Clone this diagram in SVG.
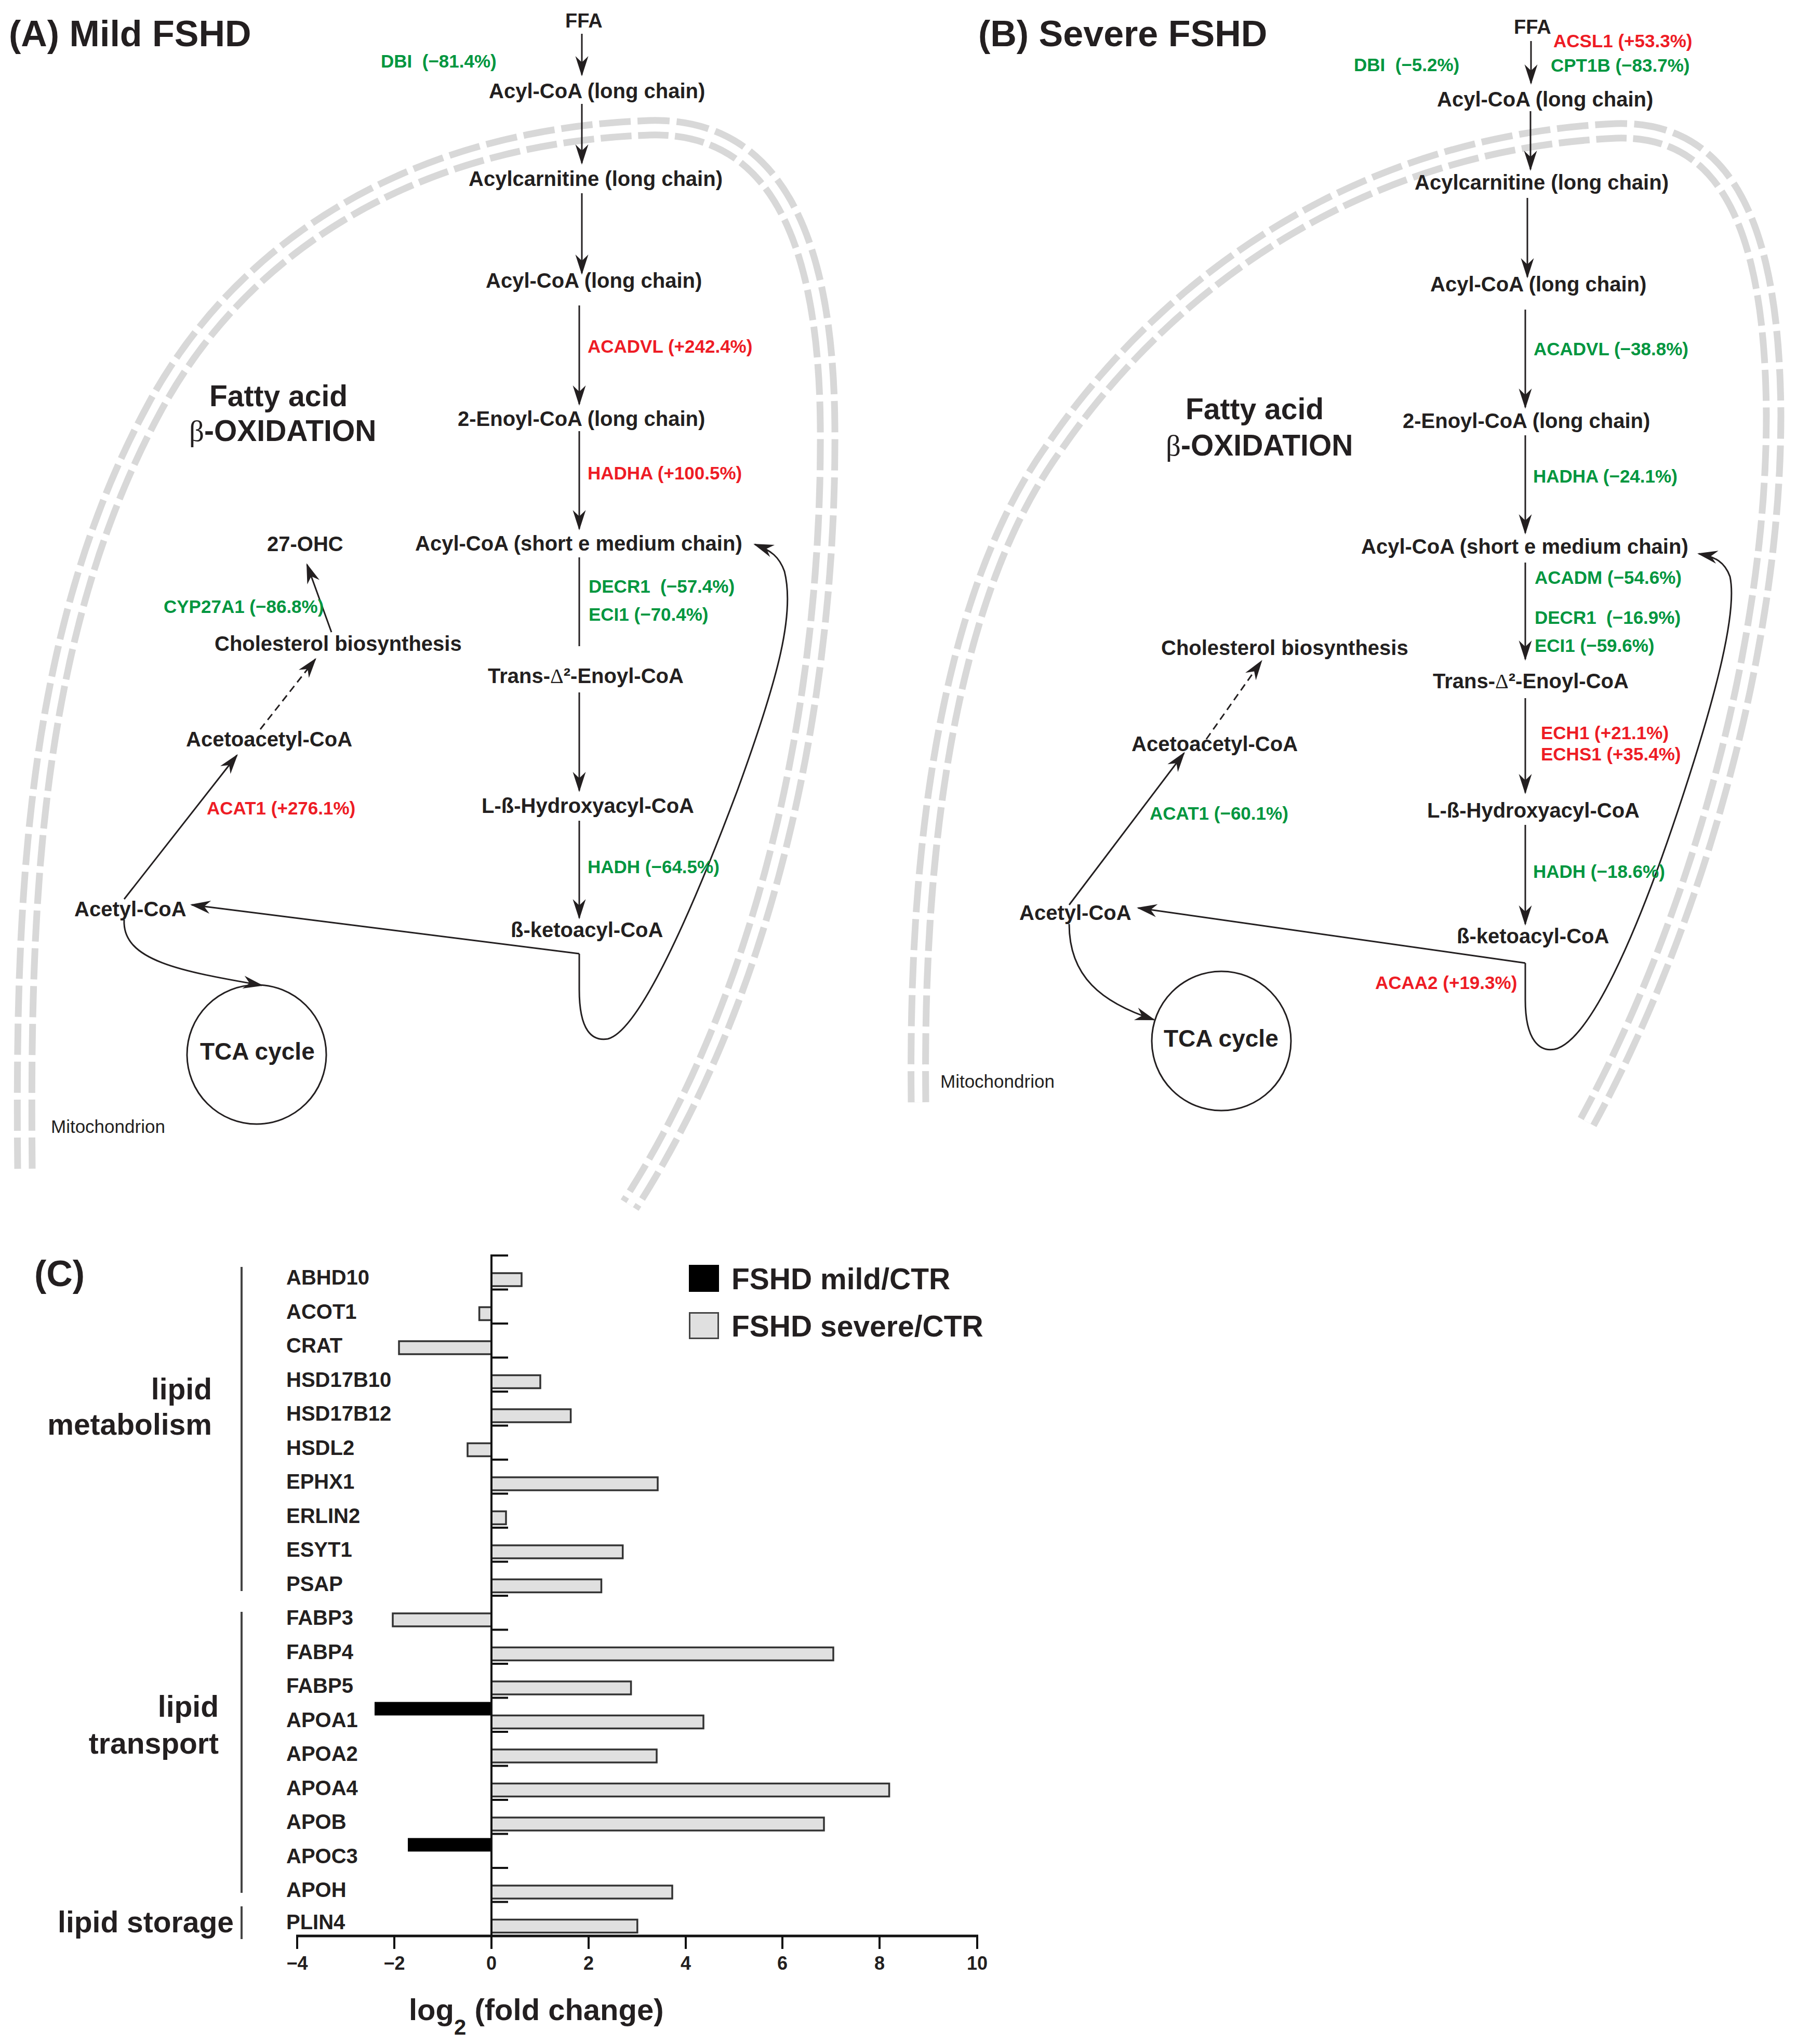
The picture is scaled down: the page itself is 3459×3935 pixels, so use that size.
<svg xmlns="http://www.w3.org/2000/svg" width="3459" height="3935" viewBox="0 0 3459 3935">
<style>
 text { font-family: "Liberation Sans", Arial, sans-serif; font-weight: bold; fill: #231f20; }
 .n { font-size: 40px; }
 .ffa { font-size: 38px; }
 .e { font-size: 35px; white-space: pre; }
 .g { fill: #00963f; }
 .r { fill: #ee1c25; }
 .title { font-size: 70px; }
 .big { font-size: 57px; }
 .tca { font-size: 46px; }
 .mito { font-weight: normal; font-size: 35px; }
 .sym { font-family: "Liberation Serif", "DejaVu Serif", serif; font-weight: normal; }
 .ln { stroke: #231f20; stroke-width: 3; fill: none; }
 .arr { marker-end: url(#ah); }
 .dash { stroke-dasharray: 14 9; }
 .mem { fill: none; stroke: #d8d8d8; stroke-width: 41; stroke-dasharray: 60 13; }
 .memgap { fill: none; stroke: #ffffff; stroke-width: 15; }
 .circ { fill: none; stroke: #231f20; stroke-width: 3; }
 .gene { font-size: 40px; }
 .tick { font-size: 36px; text-anchor: middle; }
 .ax { stroke: #111; stroke-width: 4; fill: none; }
 .gbar { fill: #e0e0e0; stroke: #333; stroke-width: 3.5; }
 .bbar { fill: #000; }
 .brk { stroke: #444; stroke-width: 4; }
 .leg { font-size: 57px; }
</style>
<defs>
 <marker id="ah" markerUnits="userSpaceOnUse" markerWidth="44" markerHeight="30" viewBox="-38 -15 42 30" refX="0" refY="0" orient="auto">
  <path d="M3,0 L-36,-12.5 L-24,0 L-36,12.5 Z" fill="#231f20"/>
 </marker>
</defs>
<rect x="0" y="0" width="3459" height="3935" fill="#ffffff"/>

<!-- Membranes -->
<g id="membrane-a">
 <path class="mem" d="M48,2250 C42,1700 70,1200 300,780 C470,470 800,262 1250,246 C1470,240 1590,420 1593,820 C1597,1300 1495,1880 1212,2320"/>
 <path class="memgap" d="M48,2250 C42,1700 70,1200 300,780 C470,470 800,262 1250,246 C1470,240 1590,420 1593,820 C1597,1300 1495,1880 1212,2320"/>
</g>
<g id="membrane-b">
 <path class="mem" d="M1768,2122 C1762,1650 1820,1150 2030,860 C2250,540 2620,275 3110,252 C3330,245 3412,450 3414,800 C3414,1250 3262,1780 3055,2160"/>
 <path class="memgap" d="M1768,2122 C1762,1650 1820,1150 2030,860 C2250,540 2620,275 3110,252 C3330,245 3412,450 3414,800 C3414,1250 3262,1780 3055,2160"/>
</g>

<!-- Connectors -->
<g id="connectors">
 <!-- panel A -->
 <path class="ln arr" d="M1120,65 L1120,144"/>
 <path class="ln arr" d="M1120,200 L1120,314"/>
 <path class="ln arr" d="M1120,372 L1120,526"/>
 <path class="ln arr" d="M1115,588 L1115,778"/>
 <path class="ln arr" d="M1115,830 L1115,1018"/>
 <path class="ln" d="M1115,1073 L1115,1244"/>
 <path class="ln arr" d="M1115,1333 L1115,1522"/>
 <path class="ln arr" d="M1115,1580 L1115,1767"/>
 <path class="ln arr" d="M1115,1836 L369,1742"/>
 <path class="ln arr" d="M1115,1836 L1115,1905 C1115,1985 1140,2005 1170,2000 C1230,1985 1330,1760 1420,1520 C1500,1300 1530,1180 1510,1100 C1500,1072 1485,1060 1453,1048"/>
 <path class="ln arr" d="M239,1731 L456,1454"/>
 <path class="ln arr dash" d="M501,1404 L607,1269"/>
 <path class="ln arr" d="M638,1217 L591,1087"/>
 <path class="ln arr" d="M239,1771 C235,1850 350,1870 504,1897"/>
 <!-- panel B -->
 <path class="ln arr" d="M2947,79 L2947,160"/>
 <path class="ln arr" d="M2946,214 L2946,326"/>
 <path class="ln arr" d="M2940,381 L2940,533"/>
 <path class="ln arr" d="M2936,596 L2936,784"/>
 <path class="ln arr" d="M2936,838 L2936,1026"/>
 <path class="ln arr" d="M2936,1083 L2936,1269"/>
 <path class="ln arr" d="M2936,1344 L2936,1526"/>
 <path class="ln arr" d="M2936,1588 L2936,1779"/>
 <path class="ln arr" d="M2936,1854 L2191,1748"/>
 <path class="ln arr" d="M2936,1854 L2936,1925 C2936,2005 2965,2025 2992,2020 C3060,2005 3150,1800 3230,1560 C3300,1350 3345,1180 3330,1110 C3320,1082 3302,1072 3270,1066"/>
 <path class="ln arr" d="M2058,1742 L2279,1450"/>
 <path class="ln arr dash" d="M2322,1423 L2428,1273"/>
 <path class="ln arr" d="M2058,1779 C2058,1880 2120,1930 2221,1963"/>
</g>

<!-- Panel A nodes -->
<g id="title-a"><text class="title" x="17" y="89">(A) Mild FSHD</text></g>
<g id="a-ffa"><text class="ffa" x="1088" y="53">FFA</text></g>
<g id="a-dbi"><text class="e g" x="733" y="130">DBI  (−81.4%)</text></g>
<g id="a-acylcoa-long1"><text class="n" x="941" y="189">Acyl-CoA (long chain)</text></g>
<g id="a-acylcarnitine"><text class="n" x="902" y="358">Acylcarnitine (long chain)</text></g>
<g id="a-acylcoa-long2"><text class="n" x="935" y="554">Acyl-CoA (long chain)</text></g>
<g id="a-acadvl"><text class="e r" x="1131" y="679">ACADVL (+242.4%)</text></g>
<g id="a-enoyl"><text class="n" x="881" y="820">2-Enoyl-CoA (long chain)</text></g>
<g id="a-hadha"><text class="e r" x="1131" y="923">HADHA (+100.5%)</text></g>
<g id="a-fatty"><text class="big" x="403" y="782">Fatty acid</text><text class="big" x="364" y="849"><tspan class="sym">β</tspan>-OXIDATION</text></g>
<g id="a-acylcoa-short"><text class="n" x="799" y="1060">Acyl-CoA (short e medium chain)</text></g>
<g id="a-27ohc"><text class="n" x="514" y="1061">27-OHC</text></g>
<g id="a-decr1"><text class="e g" x="1133" y="1141">DECR1  (−57.4%)</text></g>
<g id="a-eci1"><text class="e g" x="1133" y="1195">ECI1 (−70.4%)</text></g>
<g id="a-cyp27a1"><text class="e g" x="315" y="1180">CYP27A1 (−86.8%)</text></g>
<g id="a-cholesterol"><text class="n" x="413" y="1253">Cholesterol biosynthesis</text></g>
<g id="a-trans"><text class="n" x="939" y="1315">Trans-<tspan class="sym">Δ</tspan>²-Enoyl-CoA</text></g>
<g id="a-acetoacetyl"><text class="n" x="358" y="1437">Acetoacetyl-CoA</text></g>
<g id="a-acat1"><text class="e r" x="398" y="1568">ACAT1 (+276.1%)</text></g>
<g id="a-hydroxy"><text class="n" x="927" y="1565">L-ß-Hydroxyacyl-CoA</text></g>
<g id="a-hadh"><text class="e g" x="1131" y="1681">HADH (−64.5%)</text></g>
<g id="a-acetyl"><text class="n" x="143" y="1764">Acetyl-CoA</text></g>
<g id="a-keto"><text class="n" x="983" y="1804">ß-ketoacyl-CoA</text></g>
<g id="a-tca"><circle class="circ" cx="494" cy="2030" r="134"/><text class="tca" x="385" y="2040">TCA cycle</text></g>
<g id="a-mito"><text class="mito" x="98" y="2181">Mitochondrion</text></g>

<!-- Panel B nodes -->
<g id="title-b"><text class="title" x="1883" y="89">(B) Severe FSHD</text></g>
<g id="b-ffa"><text class="ffa" x="2914" y="65">FFA</text></g>
<g id="b-acsl1"><text class="e r" x="2990" y="91">ACSL1 (+53.3%)</text></g>
<g id="b-dbi"><text class="e g" x="2606" y="137">DBI  (−5.2%)</text></g>
<g id="b-cpt1b"><text class="e g" x="2985" y="138">CPT1B (−83.7%)</text></g>
<g id="b-acylcoa-long1"><text class="n" x="2766" y="205">Acyl-CoA (long chain)</text></g>
<g id="b-acylcarnitine"><text class="n" x="2723" y="365">Acylcarnitine (long chain)</text></g>
<g id="b-acylcoa-long2"><text class="n" x="2753" y="561">Acyl-CoA (long chain)</text></g>
<g id="b-acadvl"><text class="e g" x="2952" y="684">ACADVL (−38.8%)</text></g>
<g id="b-fatty"><text class="big" x="2282" y="807">Fatty acid</text><text class="big" x="2244" y="877"><tspan class="sym">β</tspan>-OXIDATION</text></g>
<g id="b-enoyl"><text class="n" x="2700" y="824">2-Enoyl-CoA (long chain)</text></g>
<g id="b-hadha"><text class="e g" x="2951" y="929">HADHA (−24.1%)</text></g>
<g id="b-acylcoa-short"><text class="n" x="2620" y="1066">Acyl-CoA (short e medium chain)</text></g>
<g id="b-acadm"><text class="e g" x="2954" y="1124">ACADM (−54.6%)</text></g>
<g id="b-decr1"><text class="e g" x="2954" y="1201">DECR1  (−16.9%)</text></g>
<g id="b-eci1"><text class="e g" x="2954" y="1255">ECI1 (−59.6%)</text></g>
<g id="b-cholesterol"><text class="n" x="2235" y="1261">Cholesterol biosynthesis</text></g>
<g id="b-trans"><text class="n" x="2758" y="1325">Trans-<tspan class="sym">Δ</tspan>²-Enoyl-CoA</text></g>
<g id="b-ech1"><text class="e r" x="2966" y="1423">ECH1 (+21.1%)</text><text class="e r" x="2966" y="1464">ECHS1 (+35.4%)</text></g>
<g id="b-acetoacetyl"><text class="n" x="2178" y="1446">Acetoacetyl-CoA</text></g>
<g id="b-hydroxy"><text class="n" x="2747" y="1574">L-ß-Hydroxyacyl-CoA</text></g>
<g id="b-acat1"><text class="e g" x="2213" y="1578">ACAT1 (−60.1%)</text></g>
<g id="b-hadh"><text class="e g" x="2951" y="1690">HADH (−18.6%)</text></g>
<g id="b-acetyl"><text class="n" x="1962" y="1771">Acetyl-CoA</text></g>
<g id="b-keto"><text class="n" x="2804" y="1816">ß-ketoacyl-CoA</text></g>
<g id="b-acaa2"><text class="e r" x="2647" y="1904">ACAA2 (+19.3%)</text></g>
<g id="b-tca"><circle class="circ" cx="2351" cy="2004" r="134"/><text class="tca" x="2240" y="2015">TCA cycle</text></g>
<g id="b-mito"><text class="mito" x="1810" y="2094">Mitochondrion</text></g>

<!-- Panel C chart -->
<g id="chart">
 <text class="title" x="66" y="2476">(C)</text>
 <text class="big" x="408" y="2694" text-anchor="end">lipid</text>
 <text class="big" x="408" y="2762" text-anchor="end">metabolism</text>
 <text class="big" x="421" y="3305" text-anchor="end">lipid</text>
 <text class="big" x="421" y="3376" text-anchor="end">transport</text>
 <text class="big" x="450" y="3720" text-anchor="end">lipid storage</text>
 <line class="brk" x1="465" y1="2439" x2="465" y2="3063"/>
 <line class="brk" x1="465" y1="3103" x2="465" y2="3644"/>
 <line class="brk" x1="465" y1="3670" x2="465" y2="3733"/>
 <text class="gene" x="551" y="2473">ABHD10</text>
 <text class="gene" x="551" y="2538.5">ACOT1</text>
 <text class="gene" x="551" y="2604">CRAT</text>
 <text class="gene" x="551" y="2669.5">HSD17B10</text>
 <text class="gene" x="551" y="2735">HSD17B12</text>
 <text class="gene" x="551" y="2800.5">HSDL2</text>
 <text class="gene" x="551" y="2866">EPHX1</text>
 <text class="gene" x="551" y="2931.5">ERLIN2</text>
 <text class="gene" x="551" y="2997">ESYT1</text>
 <text class="gene" x="551" y="3062.5">PSAP</text>
 <text class="gene" x="551" y="3128">FABP3</text>
 <text class="gene" x="551" y="3193.5">FABP4</text>
 <text class="gene" x="551" y="3259">FABP5</text>
 <text class="gene" x="551" y="3324.5">APOA1</text>
 <text class="gene" x="551" y="3390">APOA2</text>
 <text class="gene" x="551" y="3455.5">APOA4</text>
 <text class="gene" x="551" y="3521">APOB</text>
 <text class="gene" x="551" y="3586.5">APOC3</text>
 <text class="gene" x="551" y="3652">APOH</text>
 <text class="gene" x="551" y="3714">PLIN4</text>
 <rect class="gbar" x="946" y="2451" width="58" height="25"/>
 <rect class="gbar" x="922.6" y="2516.5" width="23.4" height="25"/>
 <rect class="gbar" x="768" y="2582" width="178" height="25"/>
 <rect class="gbar" x="946" y="2647.5" width="94" height="25"/>
 <rect class="gbar" x="946" y="2713" width="152.6" height="25"/>
 <rect class="gbar" x="900" y="2778.5" width="46" height="25"/>
 <rect class="gbar" x="946" y="2844" width="320" height="25"/>
 <rect class="gbar" x="946" y="2909.5" width="28" height="25"/>
 <rect class="gbar" x="946" y="2975" width="252.7" height="25"/>
 <rect class="gbar" x="946" y="3040.5" width="211.5" height="25"/>
 <rect class="gbar" x="756" y="3106" width="190" height="25"/>
 <rect class="gbar" x="946" y="3171.5" width="658" height="25"/>
 <rect class="gbar" x="946" y="3237" width="268.6" height="25"/>
 <rect class="bbar" x="721" y="3276.5" width="225" height="26"/>
 <rect class="gbar" x="946" y="3302.5" width="408" height="25"/>
 <rect class="gbar" x="946" y="3368" width="318" height="25"/>
 <rect class="gbar" x="946" y="3433.5" width="765.6" height="25"/>
 <rect class="gbar" x="946" y="3499" width="640" height="25"/>
 <rect class="bbar" x="785" y="3538.5" width="161" height="26"/>
 <rect class="gbar" x="946" y="3630" width="348" height="25"/>
 <rect class="gbar" x="946" y="3695.5" width="280.8" height="25"/>
 <line class="ax" x1="946" y1="2415" x2="946" y2="3727"/>
 <path class="ax" d="M944,2417 H978 M946,2482.5 H978 M946,2548 H978 M946,2613.5 H978 M946,2679 H978 M946,2744.5 H978 M946,2810 H978 M946,2875.5 H978 M946,2941 H978 M946,3006.5 H978 M946,3072 H978 M946,3137.5 H978 M946,3203 H978 M946,3268.5 H978 M946,3334 H978 M946,3399.5 H978 M946,3465 H978 M946,3530.5 H978 M946,3596 H978 M946,3661.5 H978"/>
 <line x1="570" y1="3727" x2="1883" y2="3727" stroke="#111" stroke-width="5"/>
 <path class="ax" d="M572,3727 V3752 M759,3727 V3752 M946,3727 V3752 M1133,3727 V3752 M1320,3727 V3752 M1506,3727 V3752 M1693,3727 V3752 M1881,3727 V3752"/>
 <text class="tick" x="572" y="3792">−4</text>
 <text class="tick" x="759" y="3792">−2</text>
 <text class="tick" x="946" y="3792">0</text>
 <text class="tick" x="1133" y="3792">2</text>
 <text class="tick" x="1320" y="3792">4</text>
 <text class="tick" x="1506" y="3792">6</text>
 <text class="tick" x="1693" y="3792">8</text>
 <text class="tick" x="1881" y="3792">10</text>
 <text class="big" x="787" y="3889" style="font-size:58px">log<tspan dy="28" style="font-size:42px">2</tspan><tspan dy="-28"> (fold change)</tspan></text>
 <rect x="1326" y="2435" width="58" height="52" fill="#000"/>
 <text class="leg" x="1408" y="2482">FSHD mild/CTR</text>
 <rect x="1327.5" y="2527.5" width="55" height="49" fill="#e0e0e0" stroke="#444" stroke-width="3"/>
 <text class="leg" x="1408" y="2573">FSHD severe/CTR</text>
</g>
</svg>
